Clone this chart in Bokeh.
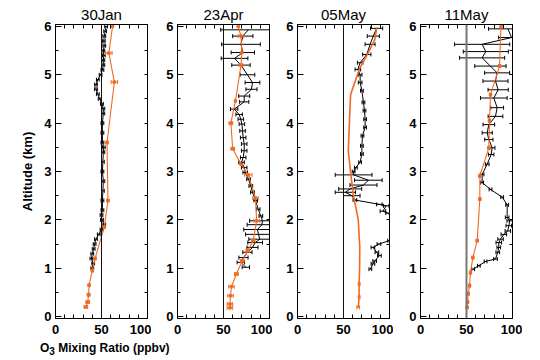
import numpy as np
from bokeh.plotting import figure
from bokeh.models import Range1d, FixedTicker, LinearAxis, Span, ColumnDataSource, Div
from bokeh.layouts import row, column
from bokeh.embed import file_html
from bokeh.resources import INLINE

FONT = "Liberation Sans"
ORANGE = "#EE6A24"
REF_X = 50

titles = ["30Jan", "23Apr", "05May", "11May"]
x_ticks = [0, 50, 100]
y_ticks = [0, 1, 2, 3, 4, 5, 6]

# ---- panel 1 (30Jan)
y1k = [1.0,1.1,1.2,1.3,1.4,1.5,1.6,1.7,1.8,1.9,2.0,2.1,2.2,2.4,2.6,2.8,3.0,3.2,3.4,3.5,3.6,3.8,4.0,4.2,4.3,4.4,4.5,4.6,4.7,4.8,4.9,5.0,5.1,5.2,5.3,5.4,5.5,5.6,5.7,5.8,5.9,6.0]
x1k = [40,41,39,40,41.5,42.5,44,47,50,53,50.5,50,51,51,51.5,52,51,51.5,52,52.5,51,51,51,52,52,50.5,48,46,44,44,46,49,51,52,52,52.5,52,53,52.5,53,54,55]
e1k = [1.5] * len(y1k)
y1o = [0.2,0.3,0.45,0.65,0.95,1.2,1.85,2.4,3.6,4.85,5.45,6.0]
x1o = [33,35,36,36.5,40,43,53,57,56,64,58,62]
e1o = [2,2,1.5,1,1,1,1,1,1,3.5,3.5,0]

# ---- panel 2 (23Apr)
y2k = [5.93,5.8,5.63,5.46,5.34,5.2,5.0,4.84,4.7,4.56,4.44,4.29,4.18,4.08,3.98,3.84,3.7,3.57,3.43,3.29,3.19,3.08,2.98,2.84,2.7,2.57,2.4,2.22,2.08,1.98,1.9,1.8,1.7,1.6,1.53,1.43,1.33,1.22,1.12,1.02]
x2k = [77,71,69,71,62,69,76,81.5,80.4,72.5,72.5,61.6,67,68.8,70,70.7,71.4,72.5,72.5,71.4,69.6,72.5,73.6,77.2,79.7,81.5,85,87.7,90.6,92.4,91.7,87,88,89.5,84.4,81.5,76,71.7,68.8,74.3]
e2k = [30,11,21,12.7,14.5,10,8,8,6,6,5,4,3.5,3,3,3,3,3,3,3,3,3,2.5,2,2,2,2,2,2,14,16,15,14,12,8,6,5,5,4,4]
y2o = [0.18,0.26,0.43,0.62,0.88,1.15,1.36,1.57,1.98,2.45,2.93,3.15,3.47,4.0,4.46,5.2,5.46,5.8,6.0]
x2o = [57,57,57.6,58.7,64,70.3,76.4,82.3,86,84.8,77,69,60,58,63,69,70,69,66]
e2o = [3,3,3,3,2,2,2,2,3,3,4,0,2,2,0,2,0,3,0]

# ---- panel 3 (05May)
y3k = [5.96,5.8,5.63,5.42,5.25,5.11,5.0,4.84,4.67,4.43,4.26,4.08,3.91,3.74,3.53,3.36,3.19,3.08,3.0,2.93,2.82,2.72,2.64,2.57,2.5,2.41,2.32,2.29,2.18,2.14,2.0,1.8,1.57,1.5,1.43,1.33,1.26,1.15,1.09,0.98]
x3k = [86,82.4,78.9,75.3,68.1,65.6,68.1,68.1,70,71.7,72.8,73.5,73.5,70.6,70,70,68,63.4,61,61,77,71.7,57.3,52,59,62.4,89,96.4,92.8,98,106,108,100,88.5,82,86.3,89,83.9,82,79.2]
e3k = [6.6,6.6,5.4,4.5,3,3,2,2,1.5,1.5,1.5,1.5,1.5,1.5,1.5,1.5,1.5,1.5,1.5,20,15,14.7,12.5,11,9,2,3,3,3,2,2,2,2,2,2,2,2,2,2,1.5]
y3o = [0.19,0.4,0.67,1.0,1.43,2.01,2.53,2.94,3.42,3.97,4.59,5.14,5.45,5.72,5.98]
x3o = [66,67,67,67.5,67.7,66,60.5,58,55.2,56.3,57.7,67.7,76.7,83.9,86.3]
e3o = [1.5,1,1,0,0,0,0,0,0,0,0,0,0,0,0]

# ---- panel 4 (11May)
y4k = [5.95,5.77,5.63,5.48,5.35,5.18,5.04,4.87,4.69,4.52,4.32,4.14,3.97,3.8,3.66,3.49,3.35,3.15,2.94,2.77,2.63,2.47,2.31,2.05,1.98,1.88,1.77,1.7,1.6,1.53,1.43,1.33,1.19,1.14,1.05,0.98]
x4k = [95,99,67,71,67,76,83.3,81.5,84.4,79.7,83.3,81.5,74.3,72.5,74.3,77.9,76.8,72.5,67,67,76.1,88.8,94.2,94.2,97,96,94.9,90.6,87,85.1,85.1,84,81.5,70.7,63.4,57.2]
e4k = [21,14,30,24.5,24.5,17,13.6,13.6,11,14.5,7,8,6.3,5.5,4.5,3,3,2,2,1.5,1.5,1.5,1.5,2,3,3,3,3,3,3,2,2,2,1.5,1.5,1.5]
y4o = [0.19,0.3,0.47,0.64,0.91,1.22,1.57,2.43,2.91,3.49,4.05,4.59,5.18,6.0]
x4o = [50.7,51.2,51.8,53.3,54.3,56.9,61.6,64.5,64.5,74.3,75,76.1,85.9,87.5]
e4o = [1,1,1,1,1,1,1,1,1,1,1,1,1,0]

panels = [
    (y1k, x1k, e1k, y1o, x1o, e1o),
    (y2k, x2k, e2k, y2o, x2o, e2o),
    (y3k, x3k, e3k, y3o, x3o, e3o),
    (y4k, x4k, e4k, y4o, x4o, e4o),
]
left_borders = [55, 26, 25, 27]
right_borders = [4, 3, 4, 10]
ref_styles = [("#111111", 1), ("#111111", 1), ("#111111", 1), ("#777777", 2)]
orange_marker = [2.5, 2.5, 0, 2.5]
orange_width = [1.1, 1.1, 1.6, 1.1]
FRAME_W, TOP_B, FRAME_H, BOT_B = 92, 24, 294, 22


def style_axis(ax, labels=True, tin=6, mtin=3):
    ax.major_tick_in = tin
    ax.major_tick_out = 0
    ax.minor_tick_in = mtin
    ax.minor_tick_out = 0
    ax.axis_line_color = "black"
    ax.major_tick_line_color = "black"
    ax.minor_tick_line_color = "black"
    if labels:
        ax.major_label_text_font = FONT
        ax.major_label_text_font_size = "13px"
        ax.major_label_text_font_style = "bold"
        ax.major_label_text_color = "black"
    else:
        ax.major_label_standoff = 0


def errbars(p, y, x, e, color, cap):
    y = np.array(y, float); x = np.array(x, float); e = np.array(e, float)
    m = e > 0
    src = ColumnDataSource(dict(y=y[m], lo=x[m] - e[m], hi=x[m] + e[m]))
    p.segment(x0="lo", y0="y", x1="hi", y1="y", source=src, line_color=color, line_width=1)
    p.scatter(x="lo", y="y", source=src, marker="dash", angle=np.pi / 2, size=cap, line_color=color, line_width=1)
    p.scatter(x="hi", y="y", source=src, marker="dash", angle=np.pi / 2, size=cap, line_color=color, line_width=1)


figs = []
for i, (yk, xk, ek, yo, xo, eo) in enumerate(panels):
    lb, rb = left_borders[i], right_borders[i]
    p = figure(width=lb + FRAME_W + rb, height=TOP_B + FRAME_H + BOT_B,
               x_range=Range1d(0, 100), y_range=Range1d(-0.04, 6.04),
               output_backend="svg", toolbar_location=None,
               min_border_left=lb, min_border_right=rb,
               min_border_top=TOP_B, min_border_bottom=BOT_B,
               background_fill_color="white", border_fill_color="white",
               outline_line_color="black", outline_line_width=1)
    p.grid.visible = False
    p.title.text = titles[i]
    p.title.align = "center"
    p.title.text_font = FONT
    p.title.text_font_size = "15px"
    p.title.text_font_style = "normal"
    p.title.text_color = "black"
    p.title.standoff = 4
    p.title.offset = 0

    xt = FixedTicker(ticks=x_ticks, minor_ticks=list(range(10, 100, 10)))
    yt = FixedTicker(ticks=y_ticks, minor_ticks=[0.5, 1.5, 2.5, 3.5, 4.5, 5.5])
    p.xaxis.ticker = xt
    p.yaxis.ticker = yt
    style_axis(p.xaxis[0], tin=5, mtin=4)
    style_axis(p.yaxis[0], tin=6, mtin=3)
    p.xaxis[0].major_label_standoff = 6
    p.yaxis[0].major_label_standoff = 4
    top = LinearAxis(ticker=FixedTicker(ticks=[], minor_ticks=list(range(10, 100, 10))))
    right = LinearAxis(ticker=FixedTicker(ticks=[], minor_ticks=[0.5, 1, 1.5, 2, 2.5, 3, 3.5, 4, 4.5, 5, 5.5]))
    style_axis(top, labels=False, tin=4, mtin=4)
    style_axis(right, labels=False, tin=3, mtin=3)
    p.add_layout(top, "above")
    p.add_layout(right, "right")
    if i == 0:
        p.yaxis[0].axis_label = "Altitude (km)"
        p.yaxis[0].axis_label_text_font = FONT
        p.yaxis[0].axis_label_text_font_size = "13px"
        p.yaxis[0].axis_label_text_font_style = "bold"
        p.yaxis[0].axis_label_text_color = "black"
        p.yaxis[0].axis_label_standoff = 6

    col, w = ref_styles[i]
    p.add_layout(Span(location=REF_X, dimension="height", line_color=col, line_width=w))

    # black series
    errbars(p, yk, xk, ek, "black", 4)
    p.line(xk, yk, line_color="black", line_width=1)
    # orange series
    errbars(p, yo, xo, eo, ORANGE, 4)
    p.line(xo, yo, line_color=ORANGE, line_width=orange_width[i])
    if orange_marker[i] > 0:
        p.scatter(xo, yo, marker="square", size=orange_marker[i], fill_color=ORANGE, line_color=ORANGE)
    figs.append(p)

xlabel = Div(text="O<sub>3</sub> Mixing Ratio (ppbv)", width=230, height=18,
             margin=(0, 0, 0, 0),
             styles={"font-family": FONT, "font-size": "12px", "font-weight": "bold",
                     "padding-left": "40px", "color": "black", "white-space": "nowrap"})

layout = column(row(*figs, spacing=0), xlabel, spacing=0)
open("out.html", "w").write(file_html(layout, INLINE))
